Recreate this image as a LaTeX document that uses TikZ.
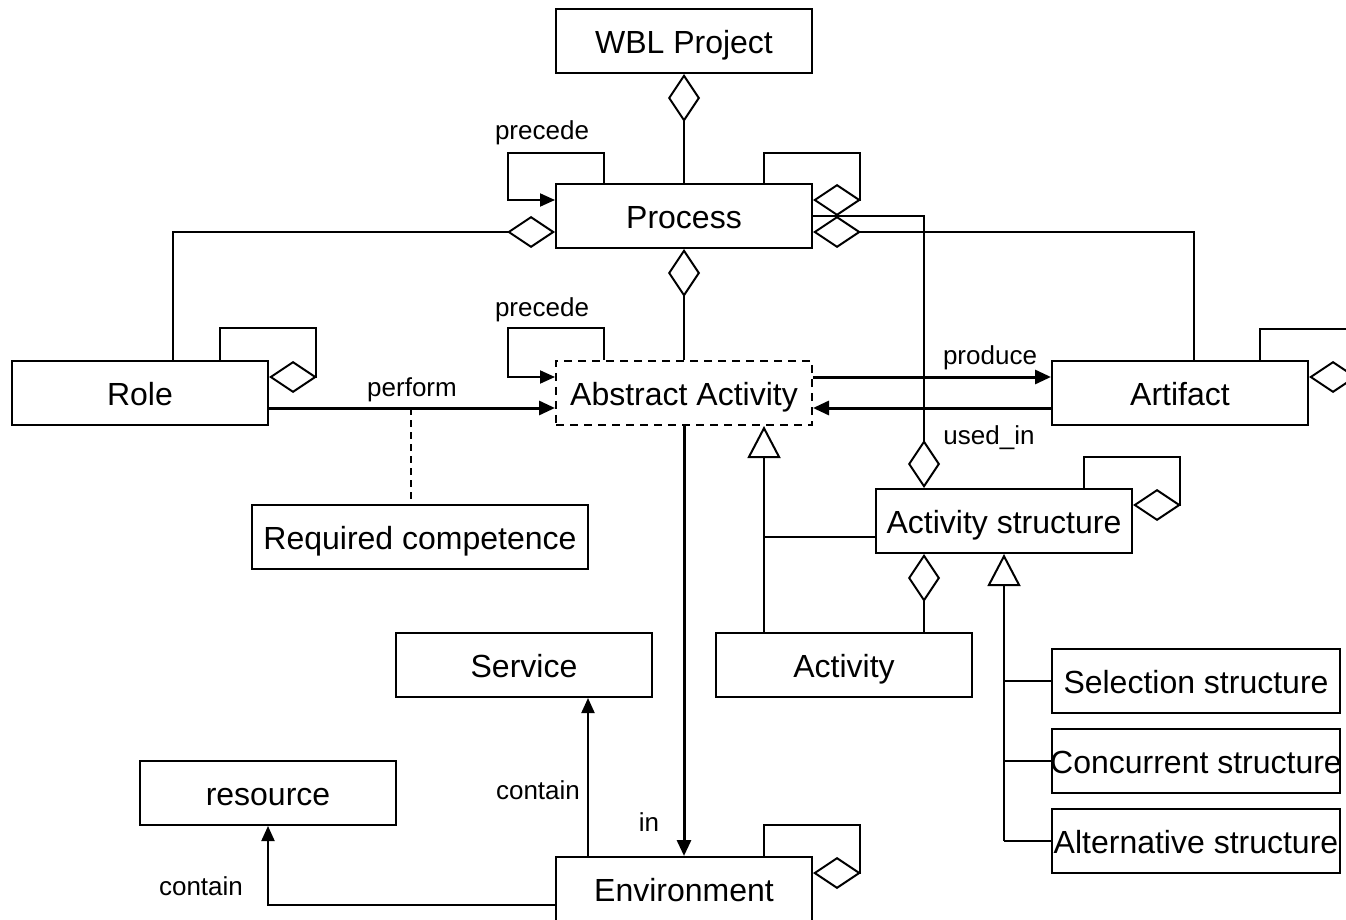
\documentclass[tikz,border=0pt]{standalone}
\usepackage{fontspec}
\setmainfont{Liberation Sans}
\usetikzlibrary{arrows.meta}

\tikzset{
  line/.style={line width=1pt},
  box/.style={draw, line width=1pt, minimum width=128pt, minimum height=32pt, inner sep=0pt,
    text height=13.5pt, text depth=1pt, font=\fontsize{16}{19}\selectfont},
  lbl/.style={inner sep=0pt, font=\fontsize{13}{15}\selectfont},
  agg/.style={line, -{Diamond[open,length=24pt,width=16pt]}},
  gen/.style={line, -{Triangle[open,length=16pt,width=16.5pt]}},
  arr/.style={line, -{Triangle[length=7.5pt,width=6.5pt]}},
  thickarr/.style={line width=1.5pt, -{Triangle[length=8pt,width=7pt]}},
}

\begin{document}
\begin{tikzpicture}[x=0.5pt,y=-0.5pt]
  \useasboundingbox (0,0) rectangle (1346,920);
  \clip (0,0) rectangle (1346,920);

  % Drawing boxes
  \node [box] (wbl) at (684,41) {WBL Project};
  \node [box] (proc) at (684,216) {Process};
  \node [box] (role) at (140,393) {Role};
  \node [box, dash pattern=on 4pt off 3pt] (absact) at (684,393) {Abstract Activity};
  \node [box] (artif) at (1180,393) {Artifact};
  \node [box, minimum width=168pt] (reqcomp) at (420,537) {Required competence};
  \node [box] (actstruct) at (1004,521) {Activity structure};
  \node [box] (activity) at (844,665) {Activity};
  \node [box] (service) at (524,665) {Service};
  \node [box] (resource) at (268,793) {resource};
  \node [box] (env) at (684,889) {Environment};
  \node [box, minimum width=144pt] (selstruct) at (1196,681) {\makebox[144pt]{Selection structure}};
  \node [box, minimum width=144pt] (concstruct) at (1196,761) {\makebox[144pt]{Concurrent structure}};
  \node [box, minimum width=144pt] (altstruct) at (1196,841) {\makebox[144pt]{Alternative structure}};

  % Loop corners
  \coordinate (procloopL) at (508,153);
  \coordinate (procloopR) at (860,153);
  \coordinate (roleloop) at (316,328);
  \coordinate (aaloop) at (508,328);
  \coordinate (artifloop) at (1356,329);
  \coordinate (asloop) at (1180,457);
  \coordinate (envloop) at (860,825);
  \coordinate (perfmid) at (411,408);
  \coordinate (genA) at ([xshift=-40pt]activity.north);

  % Aggregations of Process
  \draw [agg] (proc.north) -- (wbl.south);
  \draw [agg] (absact.north) -- (proc.south);
  \draw [agg] ([xshift=16.5pt]role.north) |- ([yshift=-8pt]proc.west);
  \draw [agg] ([xshift=7pt]artif.north) |- ([yshift=-8pt]proc.east);
  \draw [agg] (proc.east) -| ([xshift=-40pt]actstruct.north);
  \draw [agg] ([xshift=40pt]proc.north) |- (procloopR) |- ([yshift=8pt]proc.east);
  \draw [arr] ([xshift=-40pt]proc.north) |- (procloopL) |- ([yshift=8pt]proc.west);
  \node [lbl] (lblprecP) at (542,133) {precede};

  % Role and Abstract Activity
  \draw [agg] ([xshift=40pt]role.north) |- (roleloop) |- ([yshift=8pt]role.east);
  \draw [arr] ([xshift=-40pt]absact.north) |- (aaloop) |- ([yshift=8pt]absact.west);
  \node [lbl] (lblprecA) at (542,310) {precede};
  \draw [thickarr] ([yshift=-7.5pt]role.east) -- ([yshift=-7.5pt]absact.west);
  \node [lbl] (lblperf) at (412,390) {perform};
  \draw [line, dash pattern=on 3.5pt off 2.5pt] (perfmid) -- (perfmid |- reqcomp.north);

  % Artifact
  \draw [thickarr] ([yshift=8pt]absact.east) -- ([yshift=8pt]artif.west);
  \node [lbl] (lblprod) at (990,358) {produce};
  \draw [thickarr] ([yshift=-7.5pt]artif.west) -- ([yshift=-7.5pt]absact.east);
  \node [lbl] (lblused) at (989,438) {used\_in};
  \draw [agg] ([xshift=40pt]artif.north) |- (artifloop) |- ([yshift=8pt]artif.east);

  % Activity structure
  \draw [gen] (genA) -- ([xshift=40pt]absact.south);
  \draw [line] ([yshift=-8pt]actstruct.west) -- ([yshift=-8pt]actstruct.west -| genA);
  \draw [agg] ([xshift=40pt]actstruct.north) |- (asloop) |- ([yshift=8pt]actstruct.east);
  \draw [agg] ([xshift=40pt]activity.north) -- ([xshift=-40pt]actstruct.south);
  \draw [gen] (altstruct.west -| actstruct.south) -- (actstruct.south);
  \draw [line] (selstruct.west) -- (selstruct.west -| actstruct.south);
  \draw [line] (concstruct.west) -- (concstruct.west -| actstruct.south);
  \draw [line] (altstruct.west) -- (altstruct.west -| actstruct.south);

  % Environment
  \draw [thickarr] (absact.south) -- (env.north);
  \node [lbl] (lblin) at (649,822) {in};
  \draw [arr] ([xshift=-48pt]env.north) -- ([xshift=-48pt]env.north |- service.south);
  \node [lbl] (lblcontS) at (538,790) {contain};
  \draw [arr] ([yshift=-8pt]env.west) -| (resource.south);
  \node [lbl] (lblcontR) at (201,886) {contain};
  \draw [agg] ([xshift=40pt]env.north) |- (envloop) |- ([yshift=8pt]env.east);
\end{tikzpicture}
\end{document}
